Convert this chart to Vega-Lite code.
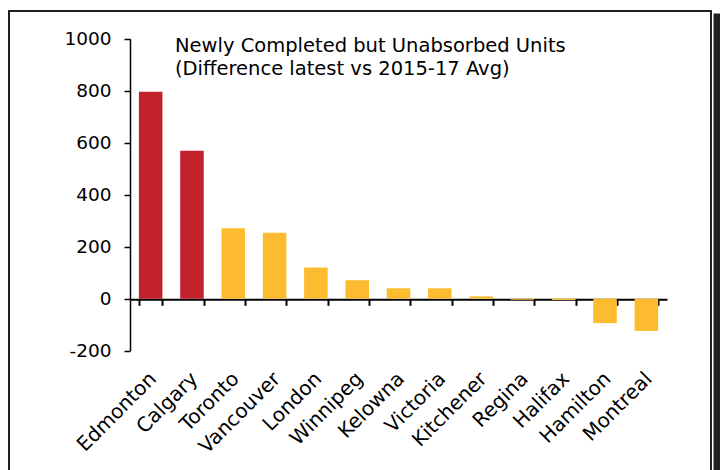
{
  "$schema": "https://vega.github.io/schema/vega-lite/v6.json",
  "autosize": "none",
  "width": 702,
  "height": 461,
  "padding": {"left": 9, "top": 11, "right": 9, "bottom": -2},
  "background": "white",
  "view": {"stroke": "#231f20", "strokeWidth": 2, "fill": "white"},
  "title": {
    "text": ["Newly Completed but Unabsorbed Units", "(Difference latest vs 2015-17 Avg)"],
    "anchor": "start",
    "frame": "group",
    "orient": "top",
    "offset": 0,
    "dx": 166,
    "dy": 68,
    "baseline": "top",
    "font": "DejaVu Sans",
    "fontSize": 19.5,
    "fontWeight": "normal",
    "lineHeight": 23,
    "color": "#000000"
  },
  "data": {
    "values": [
      {"city": "Edmonton", "value": 796, "region": "Alberta"},
      {"city": "Calgary", "value": 569, "region": "Alberta"},
      {"city": "Toronto", "value": 271, "region": "Other"},
      {"city": "Vancouver", "value": 254, "region": "Other"},
      {"city": "London", "value": 120, "region": "Other"},
      {"city": "Winnipeg", "value": 71, "region": "Other"},
      {"city": "Kelowna", "value": 40, "region": "Other"},
      {"city": "Victoria", "value": 40, "region": "Other"},
      {"city": "Kitchener", "value": 9, "region": "Other"},
      {"city": "Regina", "value": -4, "region": "Other"},
      {"city": "Halifax", "value": -5, "region": "Other"},
      {"city": "Hamilton", "value": -94, "region": "Other"},
      {"city": "Montreal", "value": -124, "region": "Other"}
    ]
  },
  "layer": [
    {
      "mark": {"type": "bar"},
      "encoding": {
        "x": {
          "field": "city",
          "type": "nominal",
          "sort": null,
          "scale": {"range": [121, 658], "paddingInner": 0.43, "paddingOuter": 0.215},
          "axis": {
            "orient": "bottom",
            "offset": -172.7,
            "title": null,
            "domain": true,
            "domainColor": "#000000",
            "domainWidth": 2,
            "ticks": true,
            "tickBand": "extent",
            "tickSize": 6,
            "tickWidth": 2,
            "tickColor": "#000000",
            "labelAngle": -45,
            "labelFont": "DejaVu Sans",
            "labelFontSize": 20,
            "labelColor": "#000000",
            "labelPadding": 63,
            "labelOffset": -5,
            "labelOverlap": false
          }
        },
        "y": {
          "field": "value",
          "type": "quantitative",
          "scale": {"domain": [-200, 1000], "range": [339.7, 27.7], "nice": false, "zero": false},
          "axis": {
            "orient": "left",
            "offset": -121,
            "values": [-200, 0, 200, 400, 600, 800, 1000],
            "labelExpr": "datum.value < 0 ? '-' + abs(datum.value) : '' + datum.value",
            "title": null,
            "grid": false,
            "domain": true,
            "domainColor": "#000000",
            "domainWidth": 1.5,
            "ticks": true,
            "tickSize": 6,
            "tickWidth": 1.5,
            "tickColor": "#000000",
            "labelFont": "DejaVu Sans",
            "labelFontSize": 18.5,
            "labelColor": "#000000",
            "labelPadding": 13
          }
        },
        "color": {
          "field": "region",
          "type": "nominal",
          "scale": {"domain": ["Alberta", "Other"], "range": ["#c1212b", "#fdbc2f"]},
          "legend": null
        }
      }
    },
    {
      "mark": {"type": "rule", "opacity": 0},
      "encoding": {
        "y": {
          "datum": 0,
          "type": "quantitative",
          "scale": {"domain": [0, 1], "range": [463, 2]},
          "axis": {
            "orient": "right",
            "offset": 5.5,
            "title": null,
            "grid": false,
            "ticks": false,
            "labels": false,
            "domain": true,
            "domainColor": "#231f20",
            "domainWidth": 7
          }
        }
      }
    }
  ],
  "resolve": {"scale": {"y": "independent"}, "axis": {"y": "independent"}}
}
